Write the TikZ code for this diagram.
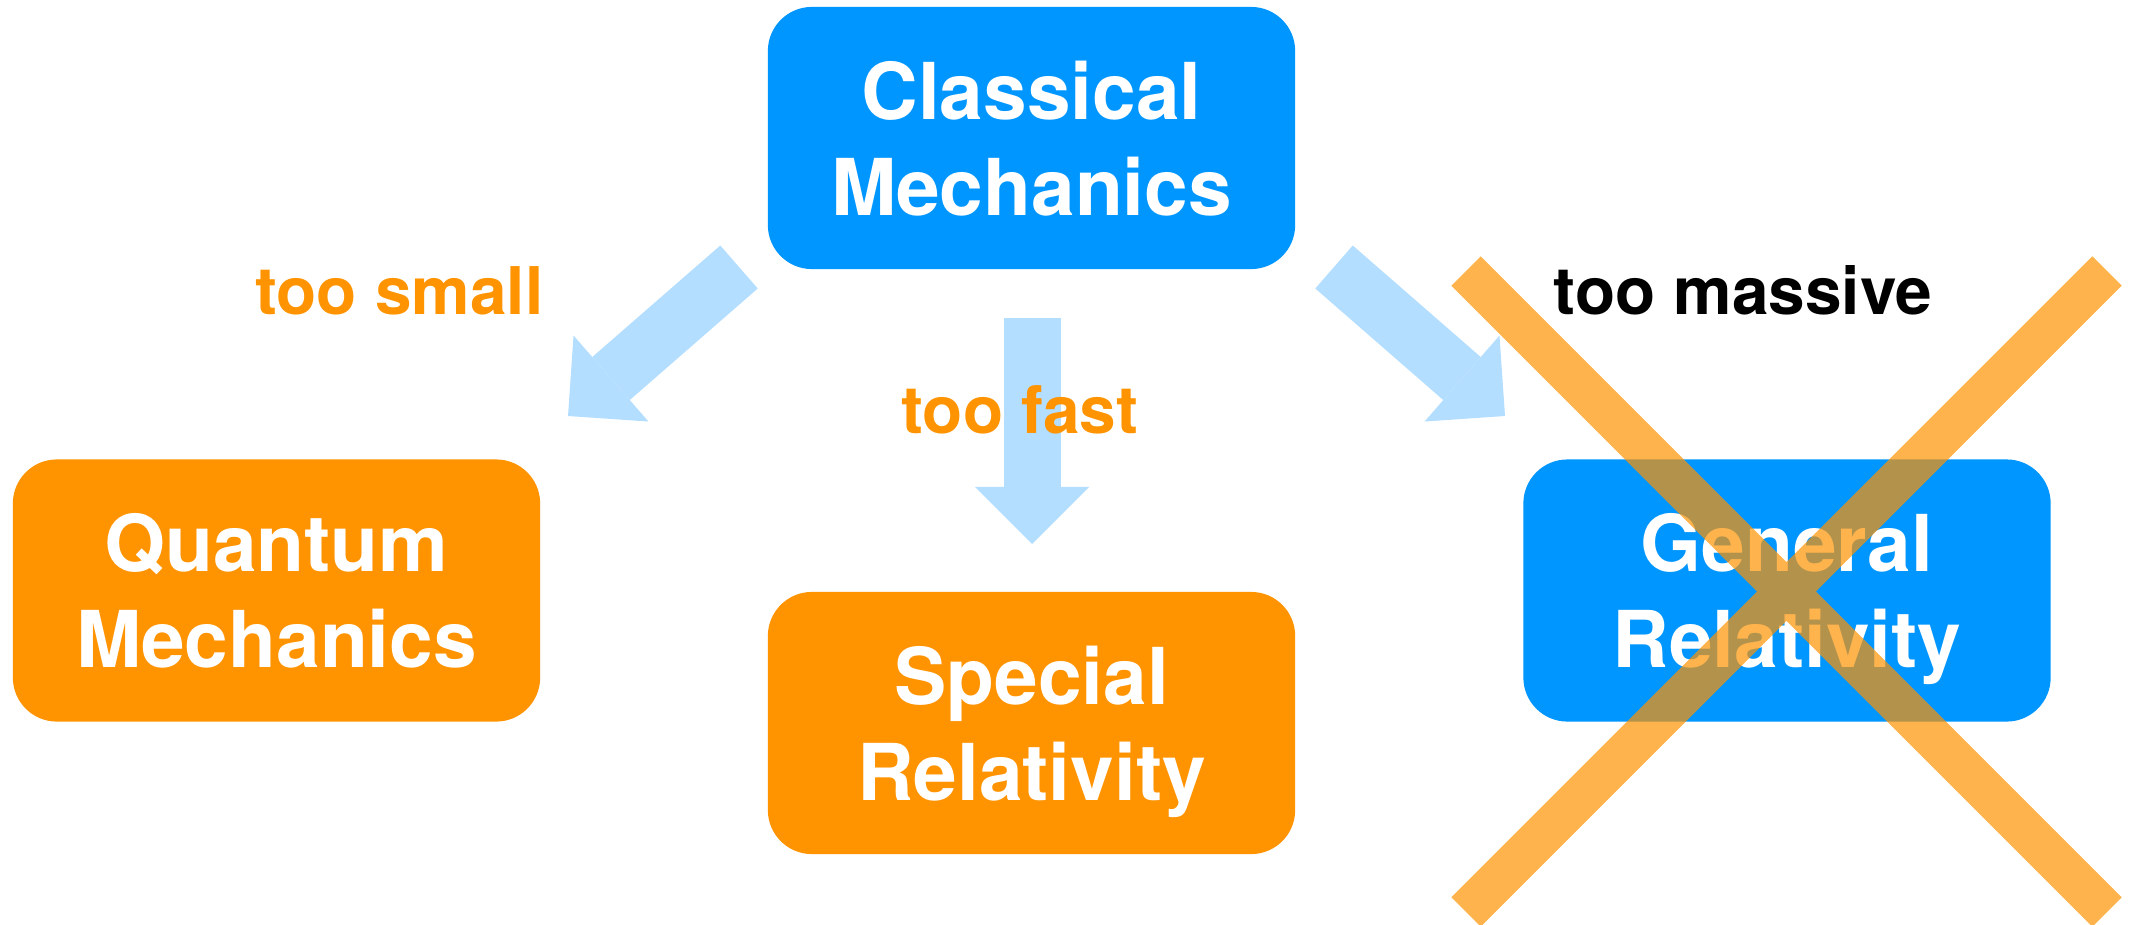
\documentclass[tikz,border=0pt]{standalone}
\usepackage{fontspec}
\setmainfont{TeX Gyre Heros}
\usetikzlibrary{arrows.meta}
\definecolor{keyblue}{HTML}{0096FF}
\definecolor{keyorange}{HTML}{FF9300}
\definecolor{paleblue}{HTML}{B3DEFF}

\begin{document}
\begin{tikzpicture}[x=0.01cm,y=-0.01cm,
    theory/.style={rounded corners=0.44cm, minimum width=5.27cm, minimum height=2.62cm,
      text=white, align=center, text depth=0pt, font=\fontsize{22.3}{27.2}\selectfont\bfseries},
    bigarrow/.style={paleblue, line width=0.57cm,
      -{Triangle[length=0.57cm, width=1.14cm, line width=0pt]}},
    reason/.style={anchor=base, font=\fontsize{18.7}{22}\selectfont\bfseries}]
  \useasboundingbox (0,0) rectangle (2131,924);

  % the four theories
  \node[theory, fill=keyblue]   (cm) at (1031.5,138)   {Classical\\Mechanics};
  \node[theory, fill=keyorange] (qm) at (276.5,590.5)  {Quantum\\Mechanics};
  \node[theory, fill=keyorange] (sr) at (1031.5,723)   {Special\\Relativity};
  \node[theory, fill=keyblue]   (gr) at (1787,590.5)   {General\\Relativity};

  % arrow ends
  \coordinate (qmtail) at (739,267);
  \coordinate (qmtip)  at (568,416);
  \coordinate (srtail) at (1032,318);
  \coordinate (srtip)  at (1032,544);
  \coordinate (grtail) at (1334,267);
  \coordinate (grtip)  at (1505,416);
  \draw[bigarrow] (qmtail) -- (qmtip);
  \draw[bigarrow] (srtail) -- (srtip);
  \draw[bigarrow] (grtail) -- (grtip);

  \node[reason, keyorange] (small)   at (399.5,314) {too small};
  \node[reason, keyorange] (fast)    at (1020,433)  {too fast};
  \node[reason]            (massive) at (1743,314)  {too massive};

  % crossed out
  \draw[keyorange, opacity=0.7, line width=0.415cm]
    (1466,271) -- (2107,912) (2107,271) -- (1466,912);
\end{tikzpicture}
\end{document}
